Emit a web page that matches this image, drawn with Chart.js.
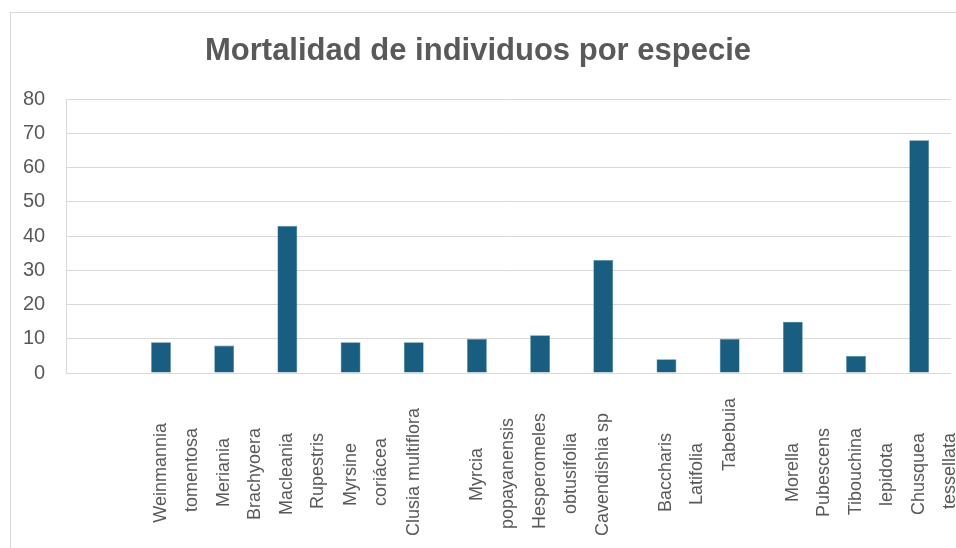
<!DOCTYPE html>
<html>
<head>
<meta charset="utf-8">
<title>Mortalidad de individuos por especie</title>
<script src="https://cdn.jsdelivr.net/npm/chart.js@4.4.1/dist/chart.umd.min.js"></script>
<style>
  html, body { margin: 0; padding: 0; background: #ffffff; }
  #wrap { position: relative; width: 956px; height: 548px; overflow: hidden; }
  #frame { position: absolute; left: 10px; top: 12px; width: 1000px; height: 600px; border: 1px solid #d9d9d9; }
  #chart { position: absolute; left: 0; top: 0; }
</style>
</head>
<body>
<div id="wrap">
  <div id="frame"></div>
  <!-- canvas is a bit larger than the window; the spare room on the right/bottom is clipped -->
  <canvas id="chart" width="1008" height="600"></canvas>
</div>
<script>
// species names, one entry per category (lines as shown on the axis)
const species = [
  [''],
  ['Weinmannia', 'tomentosa'],
  ['Meriania', 'Brachyoera'],
  ['Macleania', 'Rupestris'],
  ['Myrsine', 'coriácea'],
  ['Clusia multiflora'],
  ['Myrcia', 'popayanensis'],
  ['Hesperomeles', 'obtusifolia'],
  ['Cavendishia sp'],
  ['Baccharis', 'Latifolia'],
  ['               Tabebuia'],
  ['Morella', 'Pubescens'],
  ['Tibouchina', 'lepidota'],
  ['Chusquea', 'tessellata']
];

// dead individuals per species
const deaths = [null, 9, 8, 43, 9, 9, 10, 11, 33, 4, 10, 15, 5, 68];

// value axis
const yMin = 0;
const yMax = 80;
const yStep = 10;

const textColor = '#595959';
const gridColor = '#d9d9d9';
const barColor = '#195e80';
const fontFamily = "'Liberation Sans', Arial, sans-serif";

const labelFont = { family: fontFamily, size: 18, lineHeight: 1.72 };

// labels are centred on a common line, like the spreadsheet does it
const measure = document.createElement('canvas').getContext('2d');
measure.font = `${labelFont.size}px ${fontFamily}`;
const spaceWidth = measure.measureText(' ').width;
const widest = Math.max(...species.flat().map(s => measure.measureText(s).width));

function centerLine(text) {
  const gap = (widest - measure.measureText(text).width) / 2;
  return text + ' '.repeat(Math.max(0, Math.round(gap / spaceWidth)));
}

const xLabels = species.map(lines => lines.map(centerLine));

// where things sit on the page
const canvasHeight = 600;
const plotBottom = 373;
const labelCenter = 472;
const labelPadding = labelCenter - plotBottom - widest / 2;
// chart.js counts the tick padding twice when it sizes the axis
const bottomPadding = canvasHeight - plotBottom - 2 * labelPadding - widest;

new Chart(document.getElementById('chart'), {
  type: 'bar',
  data: {
    labels: xLabels,
    datasets: [{
      label: 'Mortalidad',
      data: deaths,
      backgroundColor: barColor,
      borderColor: '#4f8aa6',
      borderWidth: 0.6,
      categoryPercentage: 0.35,
      barPercentage: 0.9
    }]
  },
  options: {
    responsive: false,
    animation: false,
    layout: {
      padding: { left: 2, right: 54, top: 0, bottom: bottomPadding }
    },
    plugins: {
      legend: { display: false },
      tooltip: { enabled: false },
      title: {
        display: true,
        text: 'Mortalidad de individuos por especie',
        color: textColor,
        font: { family: fontFamily, size: 31, weight: 'bold' },
        padding: { top: 33, bottom: 29 }
      }
    },
    scales: {
      x: {
        grid: { display: false, drawTicks: false },
        border: { display: true, color: gridColor },
        ticks: {
          autoSkip: false,
          minRotation: 90,
          maxRotation: 90,
          padding: labelPadding,
          color: textColor,
          font: labelFont
        }
      },
      y: {
        min: yMin,
        max: yMax,
        grid: { color: gridColor, drawTicks: false },
        border: { display: true, color: gridColor },
        ticks: {
          stepSize: yStep,
          padding: 21,
          color: textColor,
          font: { family: fontFamily, size: 20 }
        }
      }
    }
  }
});
</script>
</body>
</html>
